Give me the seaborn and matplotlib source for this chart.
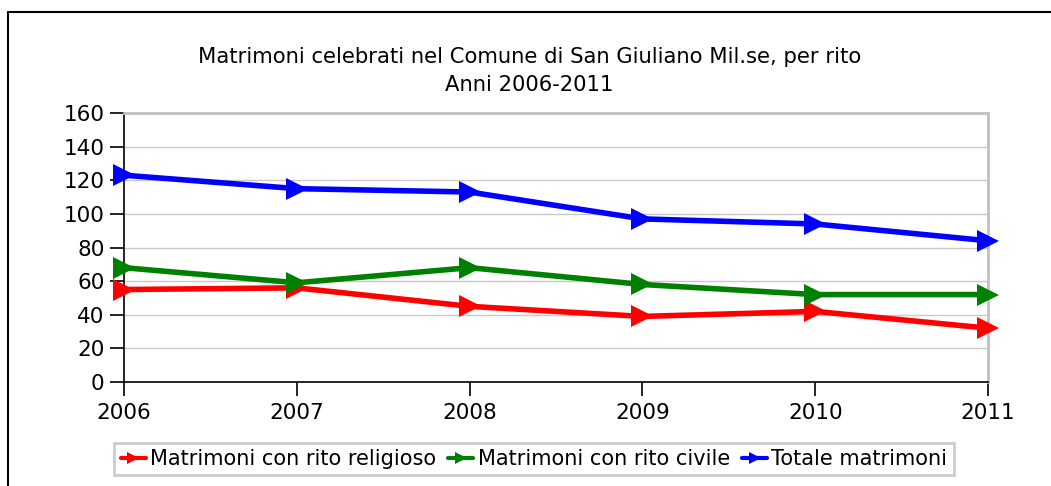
import pandas as pd
import matplotlib
matplotlib.use("Agg")
import matplotlib.pyplot as plt
import seaborn as sns
from matplotlib.lines import Line2D

sns.set_theme(style="white")
plt.rcParams['font.family'] = ['DejaVu Sans']
plt.rcParams['text.color'] = 'black'
plt.rcParams['xtick.color'] = 'black'
plt.rcParams['ytick.color'] = 'black'

# --- DATA ---
anni = [2006, 2007, 2008, 2009, 2010, 2011]
religioso = [55, 56, 45, 39, 42, 32]
civile = [68, 59, 68, 58, 52, 52]
totale = [123, 115, 113, 97, 94, 84]
serie = ["Matrimoni con rito religioso", "Matrimoni con rito civile", "Totale matrimoni"]
colori = ["#ff0000", "#008000", "#0000ff"]
y_ticks = [0, 20, 40, 60, 80, 100, 120, 140, 160]

df = pd.DataFrame({"Anno": anni, serie[0]: religioso, serie[1]: civile, serie[2]: totale})
long_df = df.melt(id_vars="Anno", var_name="Serie", value_name="Valore")

fig = plt.figure(figsize=(10.51, 4.86), dpi=100)
ax = fig.add_axes([124 / 1051, 1 - 382 / 486, (988 - 124) / 1051, (382 - 113) / 486])

sns.lineplot(data=long_df, x="Anno", y="Valore", hue="Serie", hue_order=serie,
             palette=colori, marker=">", markersize=16, markeredgewidth=0,
             linewidth=4, legend=False, ax=ax, clip_on=False, zorder=5)

ax.set_xlim(anni[0], anni[-1])
ax.set_ylim(0, 160)
ax.set_xticks(anni)
ax.set_yticks(y_ticks)
ax.set_xlabel("")
ax.set_ylabel("")
ax.grid(axis="y", color="#c8c8c8", linewidth=1)
ax.set_axisbelow(True)

for s in ["top", "right"]:
    ax.spines[s].set_color("#c0c0c0")
    ax.spines[s].set_linewidth(2)
for s in ["left", "bottom"]:
    ax.spines[s].set_color("black")
    ax.spines[s].set_linewidth(1.2)

ax.tick_params(axis="both", direction="out", length=10, width=1.2, color="black",
               labelsize=15.5, pad=4, left=True, bottom=True)
ax.tick_params(axis="x", pad=5)

fig.text(0.504, 1 - 71 / 486, "Matrimoni celebrati nel Comune di San Giuliano Mil.se, per rito\nAnni 2006-2011",
         ha="center", va="center", fontsize=15.2, linespacing=1.45)

handles = [Line2D([0], [0], color=c, linewidth=3, marker=">", markersize=9, markeredgewidth=0)
           for c in colori]
leg = fig.legend(handles, serie, loc="center", bbox_to_anchor=(534 / 1051, 1 - 459 / 486),
                 ncol=3, fontsize=15, frameon=True, fancybox=False, handlelength=1.2,
                 handletextpad=0.2, columnspacing=0.6, borderpad=0.3)
leg.get_frame().set_edgecolor("#c0c0c0")
leg.get_frame().set_linewidth(2)

# outer frame of the chart object
fig.add_artist(Line2D([8 / 1051, 1], [1 - 12 / 486, 1 - 12 / 486], color="black", linewidth=1.5,
                      transform=fig.transFigure))
fig.add_artist(Line2D([8 / 1051, 8 / 1051], [0, 1 - 12 / 486], color="black", linewidth=1.5,
                      transform=fig.transFigure))

fig.savefig("out.png", dpi=100)
